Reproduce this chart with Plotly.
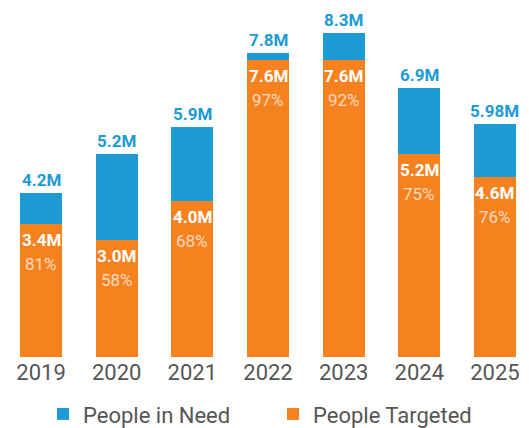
import plotly.graph_objects as go

years = ["2019", "2020", "2021", "2022", "2023", "2024", "2025"]
people_in_need = [4.2, 5.2, 5.9, 7.8, 8.3, 6.9, 5.98]
people_targeted = [3.4, 3.0, 4.0, 7.6, 7.6, 5.2, 4.6]
need_labels = ["4.2M", "5.2M", "5.9M", "7.8M", "8.3M", "6.9M", "5.98M"]
target_labels = ["3.4M", "3.0M", "4.0M", "7.6M", "7.6M", "5.2M", "4.6M"]
pct_labels = ["81%", "58%", "68%", "97%", "92%", "75%", "76%"]

BLUE = "#1b9ad6"
ORANGE = "#f5821f"
FONT = "Roboto"

remaining = [n - t for n, t in zip(people_in_need, people_targeted)]

fig = go.Figure()
fig.add_trace(go.Bar(x=years, y=people_targeted, name="People Targeted",
                     marker=dict(color=ORANGE, line=dict(width=0)),
                     hoverinfo="skip"))
fig.add_trace(go.Bar(x=years, y=remaining, name="People in Need",
                     marker=dict(color=BLUE, line=dict(width=0)),
                     hoverinfo="skip"))

annotations = []
for i, (n, t, nl, tl, pl) in enumerate(zip(people_in_need, people_targeted,
                                           need_labels, target_labels, pct_labels)):
    annotations.append(dict(x=i, y=n, xref="x", yref="y",
                            text=f"<b>{nl}</b>", showarrow=False,
                            yanchor="bottom", yshift=1,
                            font=dict(family=FONT, size=17, color=BLUE)))
    annotations.append(dict(x=i, y=t, xref="x", yref="y",
                            text=f"<b>{tl}</b>", showarrow=False,
                            yanchor="middle", yshift=-16,
                            font=dict(family=FONT, size=17, color="white")))
    annotations.append(dict(x=i, y=t, xref="x", yref="y",
                            text=pl, showarrow=False,
                            yanchor="middle", yshift=-40,
                            font=dict(family=FONT, size=17,
                                      color="rgba(255,255,255,0.72)")))

fig.update_layout(
    width=529, height=428,
    margin=dict(l=7, r=0, t=21, b=71, autoexpand=False),
    barmode="stack", bargap=0.445,
    plot_bgcolor="white", paper_bgcolor="white",
    font=dict(family=FONT, color="#555555"),
    xaxis=dict(type="category", range=[-0.45, 6.45], showgrid=False,
               showline=False, zeroline=False, ticks="",
               tickfont=dict(family=FONT, size=22, color="#555555")),
    yaxis=dict(range=[0, 8.607], visible=False, showgrid=False),
    legend=dict(orientation="h", x=0.5096, xanchor="center", y=-0.17,
                yanchor="middle", traceorder="reversed",
                font=dict(family=FONT, size=22, color="#555555"),
                itemwidth=30, entrywidth=185, entrywidthmode="pixels"),
    annotations=annotations,
    showlegend=True,
)

fig.write_html("out.html")
